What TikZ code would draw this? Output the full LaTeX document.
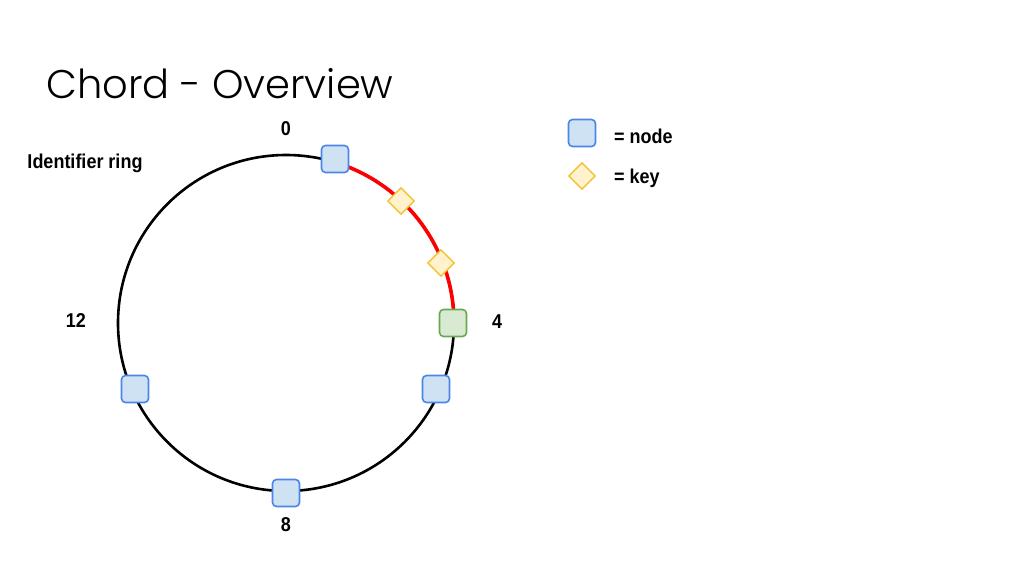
\documentclass[tikz,border=0pt]{standalone}
\usepackage{fontspec}
\setmainfont{Liberation Sans}[FakeStretch=0.9]
\newfontfamily\titlefont{Poppins Light}
\usetikzlibrary{shapes.geometric,calc}
\definecolor{nblue}{HTML}{CFE2F3}
\definecolor{nbluedraw}{HTML}{4A86E8}
\definecolor{ngreen}{HTML}{D9EAD3}
\definecolor{ngreendraw}{HTML}{6AA84F}
\definecolor{kyellow}{HTML}{FFF2CC}
\definecolor{kyellowdraw}{HTML}{F1C232}
\definecolor{ringred}{HTML}{FF0000}
\begin{document}
\begin{tikzpicture}[x=1pt,y=-1pt,
  ringnode/.style={draw=nbluedraw,fill=nblue,line width=1.6pt,rounded corners=4pt,minimum size=27pt,inner sep=0pt},
  hitnode/.style={ringnode,draw=ngreendraw,fill=ngreen},
  keynode/.style={diamond,draw=kyellowdraw,fill=kyellow,line width=1.4pt,minimum size=27pt,inner sep=0pt},
  lbl/.style={font=\bfseries\fontsize{20}{24}\selectfont,inner sep=0pt}]
\useasboundingbox (0,0) rectangle (1024,576);
\coordinate (c) at (286,323);
\node[anchor=base west,inner sep=0pt,font=\titlefont\fontsize{40}{48}\selectfont] (title) at (46,98) {Chord - Overview};
\draw[line width=2.6pt] (c) circle[radius=168];
\draw[ringred,line width=3.6pt] (c) ++(-73:168) arc[start angle=-73,end angle=-2,radius=168];
\node[keynode] (k1) at (401,201) {};
\node[keynode] (k2) at (441,263) {};
\node[ringnode] (n1) at (335,159) {};
\node[hitnode] (n4) at (453,323) {};
\node[ringnode] (n5) at (436,389) {};
\node[ringnode] (n8) at (286,493) {};
\node[ringnode] (n11) at (135,389) {};
\node[lbl] (l0) at (286,129) {0};
\node[lbl] (l4) at (497,322) {4};
\node[lbl] (l8) at (286,525) {8};
\node[lbl] (l12) at (76,321) {12};
\node[lbl] (ring) at (85,163) {Identifier ring};
\node[ringnode] (legn) at (582,133) {};
\node[keynode] (legk) at (582,176) {};
\node[lbl,anchor=west] (legnt) at (614,136) {= node};
\node[lbl,anchor=west] (legkt) at (614,178) {= key};
\end{tikzpicture}
\end{document}
